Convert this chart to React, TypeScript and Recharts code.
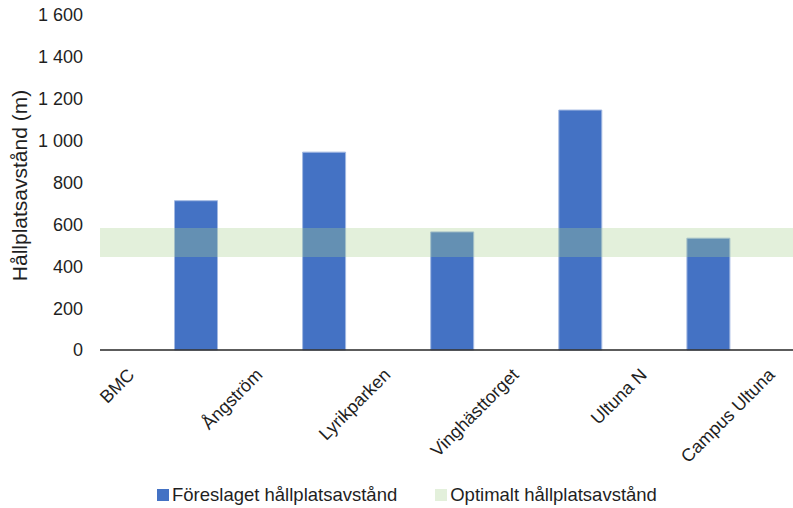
import { BarChart, Bar, XAxis, YAxis, ReferenceArea, Legend } from "recharts";

// Hållplatser längs linjen och föreslaget avstånd till nästa hållplats (m)
const stops = ["BMC", "Ångström", "Lyrikparken", "Vinghästtorget", "Ultuna N", "Campus Ultuna"];
const proposedDistance = [0, 713, 945, 564, 1146, 534];

// Optimalt intervall för hållplatsavstånd (m)
const optimalLow = 444;
const optimalHigh = 583;

const yTicks = [0, 200, 400, 600, 800, 1000, 1200, 1400, 1600];

const legendNames = ["Föreslaget hållplatsavstånd", "Optimalt hållplatsavstånd"];

const BLUE = "#4472C4";
const GREEN = "#A9D08E";
const TEXT = "#1f1f1f";
const FONT = '"Liberation Sans", Arial, sans-serif';

const data = stops.map((name, i) => ({ name, distance: proposedDistance[i] }));

const formatThousands = (v: number) =>
  String(v).replace(/\B(?=(\d{3})+(?!\d))/g, "\u00a0");

const StopTick = (props: { x?: number; y?: number; payload?: { value: string } }) => {
  const { x = 0, y = 0, payload } = props;
  const ax = x + 68;
  const ay = y + 18;
  return (
    <text
      x={ax}
      y={ay}
      textAnchor="end"
      fill={TEXT}
      fontSize={18}
      fontFamily={FONT}
      transform={`rotate(-45, ${ax}, ${ay})`}
    >
      {payload?.value}
    </text>
  );
};

const AxisTitle = (props: { viewBox?: { x: number; y: number; width: number; height: number } }) => {
  const vb = props.viewBox ?? { x: 0, y: 0, width: 0, height: 0 };
  const cx = vb.x + 19;
  const cy = vb.y + vb.height / 2 + 3;
  return (
    <text
      x={cx}
      y={cy}
      textAnchor="middle"
      dominantBaseline="central"
      fill={TEXT}
      fontSize={21}
      fontFamily={FONT}
      transform={`rotate(-90, ${cx}, ${cy})`}
    >
      Hållplatsavstånd (m)
    </text>
  );
};

const LegendContent = () => {
  const colors = [BLUE, GREEN];
  return (
    <div style={{ display: "flex", alignItems: "center", fontFamily: FONT, fontSize: 18.5, color: TEXT }}>
      {legendNames.map((name, i) => (
        <div key={name} style={{ display: "flex", alignItems: "center", marginRight: 38 }}>
          <span
            style={{
              display: "inline-block",
              width: 12,
              height: 12,
              marginRight: 3,
              background: colors[i],
              opacity: i === 1 ? 0.32 : 1,
            }}
          />
          <span>{name}</span>
        </div>
      ))}
    </div>
  );
};

export default function App() {
  return (
    <div style={{ width: 793, height: 508, background: "#fff" }}>
      <style>{`body{margin:0}`}</style>
      <BarChart
        width={793}
        height={508}
        data={data}
        margin={{ top: 15, right: 0, bottom: 0, left: 0 }}
      >
        <XAxis
          dataKey="name"
          height={158}
          padding={{ left: -96.6, right: 21 }}
          tickLine={false}
          axisLine={{ stroke: "#262626", strokeWidth: 1.5 }}
          interval={0}
          tick={<StopTick />}
        />
        {/* hidden full-width axis so the optimal band spans the whole plot */}
        <XAxis xAxisId="band" type="number" domain={[0, 1]} allowDataOverflow hide />
        <YAxis
          width={100}
          domain={[0, 1600]}
          ticks={yTicks}
          axisLine={false}
          tickLine={false}
          tickMargin={11}
          tickFormatter={formatThousands}
          tick={{ fill: TEXT, fontSize: 18, fontFamily: FONT }}
          label={<AxisTitle />}
        />
        <Bar
          dataKey="distance"
          fill={BLUE}
          stroke="#a3b9e2"
          strokeWidth={1}
          barSize={43}
          isAnimationActive={false}
        />
        <ReferenceArea
          xAxisId="band"
          y1={optimalLow}
          y2={optimalHigh}
          fill={GREEN}
          fillOpacity={0.32}
          stroke="none"
          ifOverflow="hidden"
          zIndex={400}
        />
        <Legend
          layout="horizontal"
          verticalAlign="middle"
          align="center"
          content={<LegendContent />}
          wrapperStyle={{ top: 484, left: 157, width: "auto" }}
        />
      </BarChart>
    </div>
  );
}
